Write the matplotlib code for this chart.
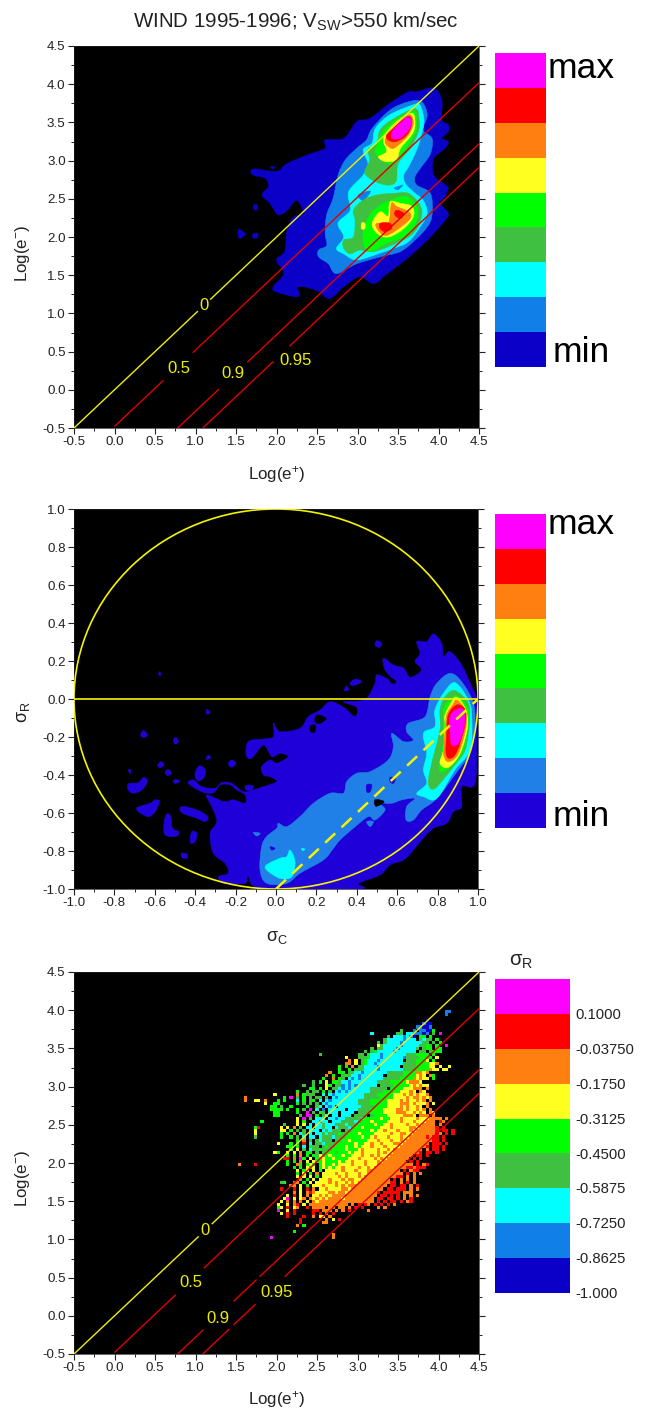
#!/usr/bin/env python3
"""WIND 1995-1996 fast wind: three stacked panels, two filled density maps and
one binned sigma_R map.  Contour outlines and bin values were read off the picture."""
import numpy as np
import matplotlib
matplotlib.use("Agg")
import matplotlib.pyplot as plt
from matplotlib.colors import ListedColormap
from matplotlib.patches import Circle, PathPatch
from matplotlib.path import Path

W, H = 648, 1411
FG = "#222222"

plt.rcParams.update({
    "font.family": ["Liberation Sans", "DejaVu Sans"],
    "mathtext.fontset": "custom",
    "mathtext.rm": "Liberation Sans",
    "mathtext.it": "Liberation Sans",
    "mathtext.bf": "Liberation Sans",
    "mathtext.default": "regular",
    "axes.unicode_minus": False,
})

COLORS_TOP = ["#0a00c8", "#1080e8", "#00ffff", "#40c040", "#00ff00", "#ffff20", "#ff8010", "#ff0000", "#ff00ff"]
COLORS_MID = ["#2000d8", "#2080e8", "#00ffff", "#40c040", "#00ff00", "#ffff20", "#ff8010", "#ff0000", "#ff00ff"]
BAR_LABELS = ["-1.000", "-0.8625", "-0.7250", "-0.5875", "-0.4500", "-0.3125", "-0.1750", "-0.03750", "0.1000"]

# ---- top panel, log(e+) / log(e-) pairs, outer contour first
T1_MAIN = [(3.73,3.90),(3.94,3.95),(4.04,3.79),(4.04,3.53),(4.12,3.47),(4.12,3.38),(4.04,3.29),(4.12,3.25),
           (4.08,3.16),(3.94,3.03),(3.94,2.81),(4.06,2.70),(4.12,2.64),(4.06,2.50),(4.00,2.46),(4.12,2.31),
           (4.08,2.22),(3.90,2.00),(3.71,1.81),(3.53,1.65),(3.34,1.50),(3.20,1.39),(3.03,1.48),(2.83,1.35),
           (2.70,1.22),(2.62,1.20),(2.50,1.30),(2.27,1.35),(2.27,1.22),(2.00,1.28),(1.96,1.35),(2.09,1.52),
           (2.00,1.70),(2.10,1.81),(2.13,2.09),(2.21,2.26),(2.33,2.31),(2.25,2.48),(2.13,2.35),(2.02,2.29),
           (1.92,2.44),(1.82,2.55),(1.90,2.66),(1.86,2.77),(1.71,2.81),(1.71,2.89),(2.00,2.86),(2.13,2.96),
           (2.37,3.07),(2.60,3.16),(2.60,3.27),(2.83,3.29),(2.99,3.51),(3.15,3.55),(3.40,3.75),(3.63,3.90)]
T1_ISLE_A = [(1.53,2.10),(1.61,2.04),(1.54,1.98)]
T1_ISLE_B = [(1.71,2.04),(1.77,2.05),(1.76,1.99),(1.71,1.99)]
T1_ISLE_C = [(1.72,2.42),(1.76,2.42),(1.76,2.36),(1.72,2.36)]
T1_ISLE_D = [(1.93,2.92),(1.98,2.92),(1.95,2.89)]
T2_MAIN = [(3.63,3.77),(3.79,3.77),(3.86,3.60),(3.81,3.40),(3.92,3.29),(3.90,3.09),(3.79,2.92),(3.71,2.79),
           (3.73,2.68),(3.90,2.57),(3.92,2.29),(3.86,2.13),(3.71,1.96),(3.53,1.81),(3.28,1.74),(2.99,1.65),
           (2.74,1.52),(2.64,1.65),(2.52,1.74),(2.52,1.83),(2.62,1.89),(2.60,2.05),(2.62,2.29),(2.70,2.51),
           (2.76,2.81),(2.85,3.01),(2.99,3.16),(3.11,3.27),(3.18,3.42),(3.40,3.66)]
T3_MAIN = [(3.69,3.73),(3.77,3.73),(3.82,3.53),(3.79,3.34),(3.73,3.14),(3.63,2.92),(3.57,2.81),(3.59,2.70),
           (3.69,2.59),(3.81,2.48),(3.86,2.31),(3.79,2.16),(3.63,1.94),(3.44,1.85),(3.28,1.79),(2.99,1.70),
           (2.83,1.78),(2.74,1.85),(2.83,2.00),(2.76,2.18),(2.91,2.35),(2.89,2.59),(3.07,2.81),(3.13,2.96),
           (3.07,3.14),(3.18,3.23),(3.22,3.42),(3.40,3.60)]
T2_HOLE_A = [(3.01,2.55),(3.16,2.60),(3.07,2.48)]
T2_HOLE_B = [(3.45,2.64),(3.50,2.66),(3.56,2.68),(3.50,2.62)]
T4_UP = [(3.71,3.68),(3.76,3.53),(3.75,3.38),(3.65,3.16),(3.50,2.96),(3.48,2.74),(3.40,2.68),(3.28,2.70),
         (3.15,2.77),(3.09,2.85),(3.15,3.01),(3.13,3.14),(3.24,3.23),(3.28,3.40),(3.42,3.53)]
T4_LOW = [(3.44,2.57),(3.63,2.57),(3.77,2.42),(3.79,2.27),(3.69,2.05),(3.48,1.92),(3.20,1.81),(3.03,1.83),
          (2.91,1.78),(2.83,1.85),(2.83,1.96),(2.95,2.00),(2.97,2.22),(2.95,2.35),(3.07,2.48),(3.24,2.55)]
T5_UP = [(3.69,3.64),(3.73,3.49),(3.71,3.36),(3.57,3.12),(3.44,2.96),(3.32,2.99),(3.22,3.10),(3.24,3.20),(3.30,3.36),(3.44,3.51)]
T5_LOW = [(3.36,2.46),(3.59,2.53),(3.73,2.40),(3.73,2.22),(3.61,2.02),(3.40,1.94),(3.15,1.81),(3.07,1.94),(3.09,2.15),(3.20,2.35)]
T6_DOT = [(3.05,2.18),(3.09,2.18),(3.09,2.11),(3.05,2.11)]
T6_UP = [(3.67,3.62),(3.71,3.47),(3.67,3.34),(3.53,3.16),(3.48,3.01),(3.34,2.99),(3.26,3.05),(3.36,3.12),(3.32,3.29),(3.46,3.49)]
T6_LOW = [(3.40,2.46),(3.53,2.44),(3.67,2.40),(3.69,2.27),(3.57,2.11),(3.38,2.00),(3.24,2.05),(3.18,2.18),(3.28,2.33),(3.38,2.27)]
T7_UP = [(3.65,3.60),(3.69,3.49),(3.63,3.34),(3.50,3.20),(3.42,3.16),(3.34,3.25),(3.42,3.42),(3.55,3.55)]
T7_LOW = [(3.42,2.44),(3.48,2.40),(3.63,2.33),(3.65,2.24),(3.48,2.09),(3.34,2.02),(3.24,2.11),(3.24,2.18),(3.38,2.18)]
T8_UP = [(3.63,3.58),(3.67,3.49),(3.61,3.34),(3.48,3.25),(3.38,3.27),(3.36,3.34),(3.48,3.47)]
T8_LOW_A = [(3.48,2.35),(3.57,2.31),(3.53,2.24),(3.46,2.29)]
T8_LOW_B = [(3.28,2.18),(3.40,2.18),(3.42,2.11),(3.34,2.07),(3.28,2.11)]
T9_UP = [(3.61,3.57),(3.67,3.51),(3.63,3.40),(3.52,3.29),(3.42,3.30),(3.44,3.40),(3.55,3.51)]

# draw order: (colour index, outline)
TOP_LAYERS = [(0,T1_MAIN),(0,T1_ISLE_A),(0,T1_ISLE_B),(0,T1_ISLE_C),(0,T1_ISLE_D),(1,T2_MAIN),(2,T3_MAIN),
              (1,T2_HOLE_A),(1,T2_HOLE_B),(3,T4_UP),(3,T4_LOW),(4,T5_UP),(4,T5_LOW),(5,T6_DOT),(5,T6_UP),
              (5,T6_LOW),(6,T7_UP),(6,T7_LOW),(7,T8_UP),(7,T8_LOW_A),(7,T8_LOW_B),(8,T9_UP)]

# ---- middle panel, sigma_c / sigma_R pairs
M1_MAIN = [(.779,.342),(.820,.293),(.829,.223),(.862,.249),(.919,.179),(.961,.083),(.994,-.005),(.994,-.181),
           (.985,-.444),(.919,-.461),(.919,-.566),(.878,-.593),(.845,-.654),(.779,-.680),(.721,-.742),(.680,-.795),
           (.631,-.847),(.565,-.873),(.515,-.926),(.408,-.970),(.408,-1.0),(-.062,-1.0),(-.137,-.935),(-.153,-.970),
           (-.260,-.970),(-.285,-.935),(-.236,-.917),(-.252,-.865),(-.310,-.812),(-.326,-.707),(-.293,-.645),
           (-.318,-.566),(-.343,-.505),(-.260,-.540),(-.211,-.531),(-.153,-.549),(-.153,-.505),(-.194,-.479),
           (-.227,-.452),(-.277,-.452),(-.310,-.493),(-.368,-.488),(-.434,-.444),(-.409,-.426),(-.368,-.461),
           (-.302,-.470),(-.269,-.440),(-.219,-.444),(-.161,-.488),(-.112,-.479),(-.062,-.461),(.004,-.435),
           (-.029,-.409),(-.062,-.400),(-.071,-.356),(-.029,-.321),(.004,-.338),(.061,-.303),(.020,-.286),
           (-.021,-.303),(-.062,-.242),(-.120,-.312),(-.148,-.295),(-.137,-.224),(-.071,-.212),(-.013,-.198),
           (-.013,-.128),(.020,-.172),(.119,-.154),(.160,-.093),(.218,-.058),(.268,-.014),(.334,-.044),(.391,-.093),
           (.400,-.044),(.334,-.014),(.441,-.002),(.490,.083),(.499,.127),(.556,.104),(.590,.091),(.540,.153),
           (.532,.214),(.581,.179),(.631,.162),(.664,.114),(.721,.153),(.688,.197),(.713,.241),(.697,.302),(.746,.302)]
M1_ISLES = [
    [(.499,.307),(.523,.293),(.512,.272),(.490,.284)],
    [(.391,.104),(.424,.091),(.383,.070),(.367,.083)],
    [(.350,.069),(.358,.048),(.337,.044)],
    [(-.656,-.166),(-.637,-.189),(-.656,-.203),(-.670,-.189)],
    [(-.496,-.202),(-.483,-.224),(-.500,-.237),(-.508,-.216)],
    [(-.343,-.054),(-.326,-.072),(-.343,-.079)],
    [(-.577,.144),(-.569,.127),(-.581,.127)],
    [(-.335,-.295),(-.323,-.312),(-.346,-.316)],
    [(-.219,-.321),(-.198,-.338),(-.219,-.359),(-.236,-.342)],
    [(-.569,-.330),(-.554,-.347),(-.574,-.361),(-.587,-.347)],
    [(-.533,-.370),(-.519,-.391),(-.538,-.403),(-.548,-.386)],
    [(-.491,-.423),(-.478,-.435),(-.500,-.444),(-.508,-.430)],
    [(-.379,-.352),(-.351,-.373),(-.359,-.417),(-.389,-.430),(-.401,-.391)],
    [(-.656,-.412),(-.637,-.435),(-.665,-.479),(-.706,-.496),(-.731,-.479),(-.731,-.447),(-.681,-.440)],
    [(-.599,-.531),(-.577,-.540),(-.599,-.593),(-.632,-.619),(-.681,-.593),(-.686,-.570),(-.623,-.549)],
    [(-.467,-.566),(-.392,-.584),(-.338,-.619),(-.351,-.645),(-.392,-.628),(-.467,-.598)],
    [(-.541,-.605),(-.521,-.619),(-.513,-.680),(-.483,-.698),(-.491,-.721),(-.549,-.716),(-.554,-.654)],
    [(-.417,-.698),(-.392,-.707),(-.401,-.751),(-.425,-.756)],
    [(-.467,-.812),(-.439,-.817),(-.442,-.838),(-.467,-.833)],
    [(-.151,-.456),(-.115,-.456),(-.120,-.479),(-.148,-.479)],
    [(-.731,-.373),(-.719,-.373),(-.722,-.394)],
]
M_GAPS = [
    [(.202,-.084),(.248,-.102),(.218,-.128),(.193,-.119)],
    [(.169,-.145),(.193,-.137),(.193,-.172),(.172,-.172)],
    [(.556,.118),(.594,.091),(.573,.083)],
]
M2_MAIN = [(.862,.135),(.919,.091),(.977,-.023),(.985,-.163),(.961,-.286),(.903,-.373),(.796,-.523),(.721,-.584),
           (.680,-.637),(.644,-.637),(.647,-.566),(.688,-.523),(.622,-.531),(.573,-.549),(.515,-.549),(.540,-.584),
           (.490,-.637),(.457,-.619),(.383,-.680),(.317,-.742),(.284,-.786),(.235,-.847),(.119,-.917),(.053,-.970),
           (-.046,-.970),(-.079,-.900),(-.071,-.777),(-.046,-.724),(.004,-.680),(.012,-.654),(.053,-.672),(.119,-.619),
           (.185,-.549),(.268,-.496),(.334,-.496),(.350,-.435),(.400,-.391),(.466,-.382),(.556,-.321),(.581,-.251),
           (.573,-.181),(.631,-.224),(.680,-.216),(.647,-.172),(.655,-.128),(.738,-.093),(.763,.012),(.796,.083)]
M2_ISLE_A = [(-.112,-.703),(-.079,-.707),(-.095,-.721)]
M2_ISLE_B = [(.449,-.645),(.482,-.645),(.466,-.672)]
M2_HOLES = [
    [(.449,-.452),(.474,-.452),(.466,-.488),(.449,-.488)],
    [(.565,-.412),(.590,-.417),(.581,-.444),(.565,-.435)],
    [(-.029,-.777),(-.005,-.786),(-.021,-.795)],
]
M2_GAP = [(.490,-.530),(.535,-.540),(.495,-.565)]
M3_RIGHT = [(.886,.086),(.952,-.005),(.969,-.093),(.961,-.268),(.886,-.373),(.796,-.523),(.730,-.514),(.697,-.496),
            (.746,-.444),(.730,-.373),(.746,-.286),(.730,-.181),(.787,-.145),(.787,-.058),(.829,.030)]
M3_LEFT = [(.070,-.795),(.094,-.856),(.078,-.935),(.020,-.944),(-.046,-.900),(-.046,-.873),(.020,-.838),(.053,-.830)]
M3_SPECK = [(.127,-.786),(.144,-.791),(.132,-.798)]
M4 = [(.886,.044),(.952,-.023),(.957,-.128),(.936,-.268),(.878,-.356),(.787,-.470),(.754,-.444),(.771,-.338),(.812,-.163),(.812,-.058),(.837,.012)]
M5 = [(.895,.016),(.948,-.049),(.952,-.145),(.919,-.286),(.853,-.365),(.812,-.382),(.812,-.338),(.829,-.216),(.829,-.058),(.862,-.005)]
M6 = [(.895,.009),(.936,-.049),(.948,-.145),(.911,-.286),(.853,-.359),(.812,-.338),(.829,-.268),(.837,-.145),(.837,-.084),(.870,-.014)]
M7 = [(.895,-.005),(.936,-.058),(.941,-.145),(.903,-.286),(.853,-.330),(.829,-.286),(.837,-.181),(.845,-.084),(.875,-.031)]
M8 = [(.895,-.031),(.936,-.058),(.934,-.145),(.895,-.277),(.862,-.312),(.842,-.286),(.845,-.181),(.853,-.084)]
M9 = [(.895,-.054),(.931,-.061),(.931,-.145),(.903,-.233),(.870,-.242),(.862,-.181),(.862,-.093)]

MID_LAYERS = ([(0,M1_MAIN)] + [(0,p) for p in M1_ISLES] + [("k",p) for p in M_GAPS]
              + [(1,M2_MAIN),(1,M2_ISLE_A),(1,M2_ISLE_B)] + [(0,p) for p in M2_HOLES] + [("k",M2_GAP)]
              + [(2,M3_RIGHT),(2,M3_LEFT),(2,M3_SPECK),(3,M4),(4,M5),(5,M6),(6,M7),(7,M8),(8,M9)])

# ---- bottom panel, binned sigma_R class per cell: (row from top, first column, classes 1-9)
BIN_X0, BIN_Y0, BIN_STEP = 1.48, 4.08, 0.04
SIGMA_BINS = [
    (2,65,"22"),(3,65,"2"),(5,59,"1"),(6,58,"211"),(7,56,"22112"),(8,51,"4...2.22115"),
    (9,42,"3.......44.3322212.4.9"),(10,47,"4.3332321.55.5"),(11,46,"4333332333.4344.5"),
    (12,44,"4.43333233333344.4.5"),(13,44,"64333332333334454.5..9"),(14,42,"4.4433332333334.455.55"),
    (15,40,"4.45333332333333.44.4555"),(16,26,"4...........44.5333233333334445555.5"),
    (17,34,"6...44453332333333244445555.6"),(18,35,"7.6.4533323333333.4445556.5"),
    (19,34,"77.6.453323333333344445555667"),(20,32,"5.5.7.4433332333333.4444555566.6..6"),
    (21,32,"5..5.44433332333333344445555766.66"),(22,29,"7..55.4433233333334444455557767"),
    (23,28,"7.5..4543323333333.444445555676.75"),(24,27,"5..7.54.3232333333344444555576766.5"),
    (25,24,"4.5.6.5543323333333344445555567776"),(26,21,"4..4...65.4423232333333.444455555676766"),
    (27,23,"55.5.6.44323233333344444.5555666777.7"),(28,19,"5..4.44.5.4.3232333333344445555566676.76"),
    (29,12,"6......7.5444..3.3233333333344445555566676767667"),
    (30,3,"7...........5.9.4.5.4.44.4.3233333333444445555666676776767"),
    (31,3,"7..66.7...5.5...3.5.45.3.3233333333444455555666676766767.7"),
    (32,9,"6..55.....5.4.4.4.323333333334444555556666777676667.6"),
    (33,11,"55.4..5....5..43.323.33333334444555566667676676.7"),
    (34,11,"5555.5..5.4.9.3.2.33333.333444455556666776766767.7"),
    (35,12,"55.....5..9.4.54.333.3333.444455556666777667676.76"),
    (36,12,"55......4.99.5.43.33.333.4444.45555666667776.777.7"),
    (37,19,"6.9.4.333.33233444443555556556667666676667777.7"),
    (38,8,"5..........6.5..33233.33344443455565555666676667666777.87"),
    (39,15,"4...6.6.3.3343334443444555556556676666766767777.7"),
    (40,6,"58......6.6.7.4.33.33433.34443455655555666766666776777778.8"),
    (41,6,"6.......66.5.4.4.333.343444.44555555656676667666767777778.88.8"),
    (42,6,"6.......5.5.7.34.3.334344454455565555666667667766777777787.8.8"),
    (43,6,"4.......5..5.4.3.33.3444344455555655676667666766777778788.8"),
    (44,19,"5.7.4.43444.44556555556667666766767777777788.8"),
    (45,13,"6...5.4.8.3.44344445555565566766766677677777777.888.8"),
    (46,16,"55.5.3.544.454455565565666766676666777777778.88.8"),
    (47,17,"5.6.4.34454445555655567666676676777777777.7.88.8"),
    (48,12,"65..6.6.7.55.4.4555455565667666676766777777778.88.8"),
    (49,16,"5.5.7.5.5464565556556667667676667777777.88.8"),
    (50,15,"88.7.95.6.57655655556667666676767777777.8.8"),
    (51,16,"5.5.7.6.65565555656676667666767777777.8.8"),
    (52,1,"7....8.........5..75.565.56556566667666766677777777777.8.78"),
    (53,18,"5.5.656.565656676666766767777777777887888"),
    (54,19,"6.56.6.5.66666766676667777777777.8.788"),
    (55,19,"5.6.5.7.6666766766676677777777777.8.7.7"),
    (56,19,"6.6.6.5.6666676766676777777777788.7.7"),
    (57,20,"7.5.6.6667666767766777777777.8.7.7.7"),
    (58,14,"45..77.5.6.6666767667676777777777788.7.8.7"),
    (59,17,"77.6.5.66676667676777777777777.88.88.7.8"),
    (60,14,"8...8.6.8.7.66766667767777777777.88.888.7.7"),
    (61,18,"7.6.78766667767767777777778.88888.777"),
    (62,16,"6.8.6.7.66767677777777777777.88.8.8.7.7.7"),
    (63,15,"69.6.67.76767677776777777777.88.88.8.7.8"),
    (64,14,"6.7.7.7.6.7677777777777777777.8.8.88.8.78"),
    (65,13,"6..6.78.6.777777777777.7.8.87.8.8.8.7"),
    (66,13,"56.8.67..8.7777.77.77.7.8.8....7.7"),
    (67,13,"9..6.8.....88.777.7.7.8.....7"),
    (68,14,"6.8.8.....8.8.7.8"),(69,16,"8....8..7.66.7"),(70,20,"8.......7.6.8"),
    (71,20,"8......77"),(72,19,"7.5"),(74,18,"5"),(75,30,"7"),(76,11,"9"),(76,30,"7"),
]

# ---- guide lines: log(e-) = log(e+) + offset, drawn in pieces that stop at the labels
OFFSETS = [0.0, -0.48, -1.28, -1.59]
LINE_NAMES = ["0", "0.5", "0.9", "0.95"]
LINE_COLORS = ["#eeee10", "#e00000", "#e00000", "#e00000"]
TOP_PIECES = [[(-0.5, 1.03), (1.18, 4.5)], [(0.0, 0.60), (0.965, 4.5)],
              [(0.78, 1.29), (1.64, 4.5)], [(1.09, 1.96), (2.16, 4.5)]]
TOP_LABEL_XY = [(1.10, 1.10), (0.79, 0.285), (1.46, 0.207), (2.23, 0.377)]
BOT_PIECES = [[(-0.5, 1.04), (1.20, 4.5)], [(0.0, 0.755), (1.105, 4.5)],
              [(0.78, 1.10), (1.47, 1.755), (1.79, 4.5)], [(1.09, 1.42), (1.47, 1.74), (2.10, 4.5)]]
BOT_LABEL_XY = [(1.117, 1.12), (0.94, 0.43), (1.28, -0.03), (2.00, 0.31)]

LOG_TICKS = [-0.5, 0.0, 0.5, 1.0, 1.5, 2.0, 2.5, 3.0, 3.5, 4.0, 4.5]
SIGMA_TICKS = [-1.0, -0.8, -0.6, -0.4, -0.2, 0.0, 0.2, 0.4, 0.6, 0.8, 1.0]


def px_axes(fig, left, top, right, bottom):
    return fig.add_axes([left / W, 1 - bottom / H, (right - left) / W, (bottom - top) / H])


def put(fig, x, y, s, **kw):
    fig.text(x / W, 1 - y / H, s, color=kw.pop("color", FG), va="center", **kw)


def style(ax, ticks, minor):
    ax.set_facecolor("black")
    ax.set_xlim(ticks[0], ticks[-1])
    ax.set_ylim(ticks[0], ticks[-1])
    ax.set_xticks(ticks)
    ax.set_yticks(ticks)
    ax.set_xticklabels(["%.1f" % t for t in ticks])
    ax.set_yticklabels(["%.1f" % t for t in ticks])
    ax.set_xticks(minor, minor=True)
    ax.set_yticks(minor, minor=True)
    ax.tick_params(which="major", direction="out", length=4, width=0.8, color=FG,
                   labelsize=9.6, labelcolor=FG, pad=2, right=True)
    ax.tick_params(which="minor", direction="out", length=2.2, width=0.7, color=FG, right=True)
    for s in ax.spines.values():
        s.set_color(FG)
        s.set_linewidth(0.5)


def smooth_fill(ax, outline, color):
    # closed Catmull-Rom curve through the outline points, so the contours come out rounded
    pts = np.array(outline, dtype=float)
    prev, nxt, nxt2 = np.roll(pts, 1, axis=0), np.roll(pts, -1, axis=0), np.roll(pts, -2, axis=0)
    c1 = pts + (nxt - prev) / 6
    c2 = nxt - (nxt2 - pts) / 6
    verts = [pts[0]]
    codes = [Path.MOVETO]
    for a, b, p in zip(c1, c2, nxt):
        verts += [a, b, p]
        codes += [Path.CURVE4] * 3
    ax.add_patch(PathPatch(Path(verts, codes), fc=color, ec=color, lw=0.4, zorder=2))


def guide_lines(ax, pieces, label_xy):
    for off, name, col, segs, (lx, ly) in zip(OFFSETS, LINE_NAMES, LINE_COLORS, pieces, label_xy):
        for x0, x1 in segs:
            x1 = min(x1, 4.5)
            ax.plot([x0, x1], [x0 + off, x1 + off], color=col, lw=1.0, solid_capstyle="butt", zorder=4)
        ax.text(lx, ly, name, color="#eeee00", fontsize=12, ha="center", va="center", zorder=5)


def color_bar(fig, left, top, right, bottom, colors):
    ax = px_axes(fig, left, top, right, bottom)
    ax.pcolormesh([0, 1], np.arange(len(colors) + 1), np.arange(len(colors))[:, None],
                  cmap=ListedColormap(colors), vmin=-0.5, vmax=len(colors) - 0.5)
    ax.axis("off")


fig = plt.figure(figsize=(W / 100, H / 100), dpi=100, facecolor="white")
put(fig, 295.5, 22, "WIND 1995-1996; V$_{SW}$>550 km/sec", fontsize=14.8, ha="center")

log_minor = np.arange(-0.25, 4.5, 0.5)
sig_minor = np.arange(-0.9, 1.0, 0.2)

# top density panel
ax1 = px_axes(fig, 74, 46, 479, 428)
style(ax1, LOG_TICKS, log_minor)
for idx, outline in TOP_LAYERS:
    smooth_fill(ax1, outline, COLORS_TOP[idx])
guide_lines(ax1, TOP_PIECES, TOP_LABEL_XY)
put(fig, 277, 475, "Log(e$^{+}$)", fontsize=12.2, ha="center")
put(fig, 22, 253, "Log(e$^{-}$)", fontsize=12.2, ha="center", rotation=90)
color_bar(fig, 495, 53, 546, 367, COLORS_TOP)
put(fig, 548, 68, "max", fontsize=25.5, color="black")
put(fig, 553, 352, "min", fontsize=25.5, color="black")

# middle density panel
ax2 = px_axes(fig, 74, 509, 478, 889)
style(ax2, SIGMA_TICKS, sig_minor)
for idx, outline in MID_LAYERS:
    smooth_fill(ax2, outline, "black" if idx == "k" else COLORS_MID[idx])
ax2.add_patch(Circle((0, 0), 1.0, fill=False, ec="#f4f400", lw=1.2, zorder=4))
ax2.axhline(0, color="#f4f400", lw=1.2, zorder=4)
ax2.plot([0.0, 1.0], [-1.0, 0.0], color="#f4f400", lw=1.8, dashes=(5.5, 3.5), zorder=5)
put(fig, 277, 938, r"$\sigma_{C}$", fontsize=13, ha="center")
put(fig, 23, 712, r"$\sigma_{R}$", fontsize=13, ha="center", rotation=90)
color_bar(fig, 495, 514, 546, 828, COLORS_MID)
put(fig, 548, 524, "max", fontsize=25.5, color="black")
put(fig, 553, 817, "min", fontsize=25.5, color="black")

# bottom binned sigma_R panel
ax3 = px_axes(fig, 74, 972, 479, 1354)
style(ax3, LOG_TICKS, log_minor)
nrow = max(r for r, _, _ in SIGMA_BINS) + 1
ncol = max(c + len(s) for _, c, s in SIGMA_BINS)
grid = np.ma.masked_all((nrow, ncol))
for row, first, classes in SIGMA_BINS:
    for i, ch in enumerate(classes):
        if ch != ".":
            grid[row, first + i] = int(ch) - 1
xedges = BIN_X0 + BIN_STEP * np.arange(ncol + 1)
yedges = BIN_Y0 - BIN_STEP * np.arange(nrow + 1)
ax3.pcolormesh(xedges, yedges, grid, cmap=ListedColormap(COLORS_TOP), vmin=-0.5, vmax=8.5, zorder=2)
guide_lines(ax3, BOT_PIECES, BOT_LABEL_XY)
put(fig, 277, 1400, "Log(e$^{+}$)", fontsize=12.2, ha="center")
put(fig, 22, 1178, "Log(e$^{-}$)", fontsize=12.2, ha="center", rotation=90)
color_bar(fig, 495, 979, 570, 1293, COLORS_TOP)
put(fig, 521, 962, r"$\sigma_{R}$", fontsize=14.5, ha="center")
for i, lab in enumerate(BAR_LABELS):
    put(fig, 575, 1294 - i * 34.87, lab, fontsize=10.7)

fig.savefig("out.png", dpi=100, facecolor="white")
